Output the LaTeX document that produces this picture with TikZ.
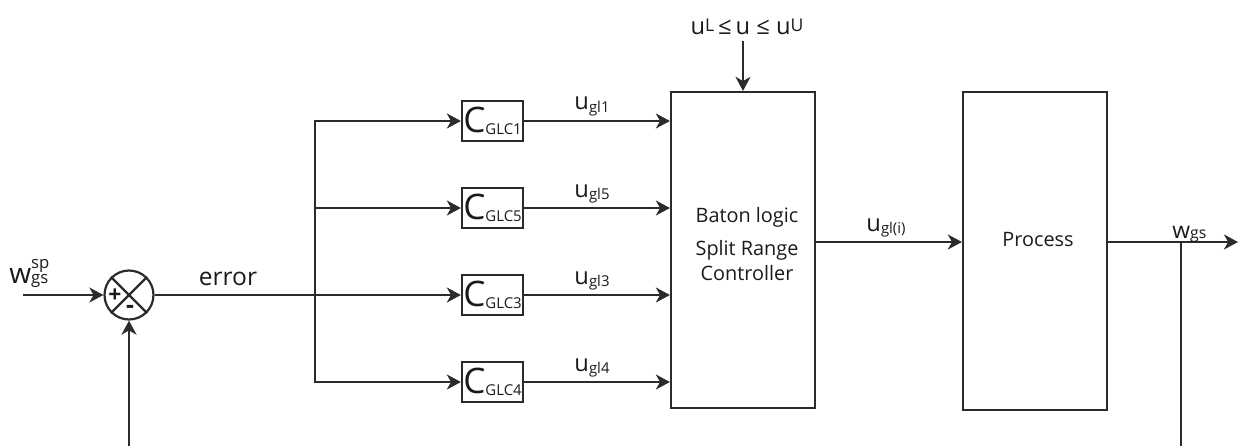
\documentclass[tikz,border=0pt]{standalone}
\usepackage{fontspec}
\setmainfont{Open Sans}
\usetikzlibrary{arrows.meta}

% pedice e apice in testo
\newcommand{\pedice}[2]{\raisebox{-1.2pt}{\fontsize{#1}{#1}\selectfont #2}}
\newcommand{\apice}[2]{\raisebox{1.9pt}{\fontsize{#1}{#1}\selectfont #2}}

\begin{document}
\begin{tikzpicture}[x=0.02cm, y=-0.02cm,
  blocco/.style={draw=colLinea, line width=1.25pt, inner sep=0.5pt, text=colTesto},
  ctrl/.style={blocco, minimum width=1.22cm, minimum height=0.8cm, font=\fontsize{20}{20}\selectfont},
  grande/.style={blocco, minimum width=2.88cm, minimum height=6.32cm},
  linea/.style={draw=colLinea, line width=1.25pt},
  freccia/.style={linea, -{Stealth[length=8pt, width=8.5pt, inset=2.4pt]}},
  etic/.style={inner sep=0pt, text=colTesto, font=\fontsize{13.5}{13.5}\selectfont},
  testo/.style={inner sep=0pt, text=colTesto, font=\fontsize{11.3}{14.4}\selectfont, align=center}
]

% Colori
\definecolor{colLinea}{HTML}{2B2B2B}
\definecolor{colTesto}{HTML}{1A1A1A}

% Area del disegno
\useasboundingbox (0,0) rectangle (1239,446);

% Sommatore
\node[blocco, circle, minimum size=0.98cm] (somma) at (129,295) {};
\draw[linea] (somma.north west) -- (somma.south east);
\draw[linea] (somma.north east) -- (somma.south west);
\node[etic, font=\fontsize{13}{13}\selectfont\bfseries] (piu) at (115,296) {+};
\node[etic, font=\fontsize{14}{14}\selectfont\bfseries] (meno) at (130,309) {-};

% Ingresso e riferimento
\coordinate (ingresso) at (23,295);
\node[etic, anchor=base west] (wsp) at (9,283)
  {{\fontsize{16}{16}\selectfont w}{\fontsize{9.5}{8.5}\selectfont\begin{tabular}[b]{@{}l@{}}sp\\gs\end{tabular}}};
\draw[freccia] (ingresso) -- (somma.west);

% Regolatori
\node[ctrl] (c1) at (492.5,121) {C\pedice{8.5}{GLC1}};
\node[ctrl] (c5) at (492.5,208) {C\pedice{8.5}{GLC5}};
\node[ctrl] (c3) at (492.5,295) {C\pedice{8.5}{GLC3}};
\node[ctrl] (c4) at (492.5,382) {C\pedice{8.5}{GLC4}};

% Errore e diramazione
\coordinate (nodo) at (315,295);
\draw[freccia] (somma.east) -- (c3.west);
\node[etic, font=\fontsize{14}{14}\selectfont, anchor=base] (lblErr) at (228,285) {error};
\draw[freccia] (nodo) |- (c1.west);
\draw[freccia] (nodo) |- (c5.west);
\draw[freccia] (nodo) |- (c4.west);

% Baton logic
\node[grande] (baton) at (743,250) {};
\node[testo] (testoBaton) at (747,244) {Baton logic\\[4.5pt]Split Range\\Controller};

% Vincolo
\node[etic, anchor=base] (vincolo) at (747,35) {u\apice{10}{L}\,≤\,u ≤ u\apice{10}{U}};
\draw[freccia, shorten <=3pt] (vincolo.south -| baton.north) -- (baton.north);

% Uscite dei regolatori
\draw[freccia] (c1.east) -- (c1.east -| baton.west);
\draw[freccia] (c5.east) -- (c5.east -| baton.west);
\draw[freccia] (c3.east) -- (c3.east -| baton.west);
\draw[freccia] (c4.east) -- (c4.east -| baton.west);
\node[etic, anchor=base] (u1) at (592,110) {u\pedice{8.5}{gl1}};
\node[etic, anchor=base] (u5) at (592,197) {u\pedice{8.5}{gl5}};
\node[etic, anchor=base] (u3) at (592,284) {u\pedice{8.5}{gl3}};
\node[etic, anchor=base] (u4) at (592,371) {u\pedice{8.5}{gl4}};

% Processo
\coordinate (riga) at (0,242);
\node[grande, minimum height=6.36cm] (processo) at (1035,251) {};
\node[testo] (testoProc) at (1038,240) {Process};
\draw[freccia] (baton.east |- riga) -- (processo.west |- riga);
\node[etic, anchor=base] (ui) at (886,231) {u\pedice{8.5}{gl(i)}};

% Uscita e retroazione
\coordinate (uscita) at (1238,242);
\coordinate (diramOut) at (1181,242);
\coordinate (fondoDx) at (1181,446);
\coordinate (fondoSx) at (129,446);
\draw[freccia] (processo.east |- riga) -- (uscita);
\node[etic, anchor=base west] (wgs) at (1172,238) {{\fontsize{13}{13}\selectfont w}{\fontsize{9}{9}\selectfont gs}};
\draw[linea] (diramOut) -- (fondoDx);
\draw[freccia] (fondoSx) -- (somma.south);

\end{tikzpicture}
\end{document}
